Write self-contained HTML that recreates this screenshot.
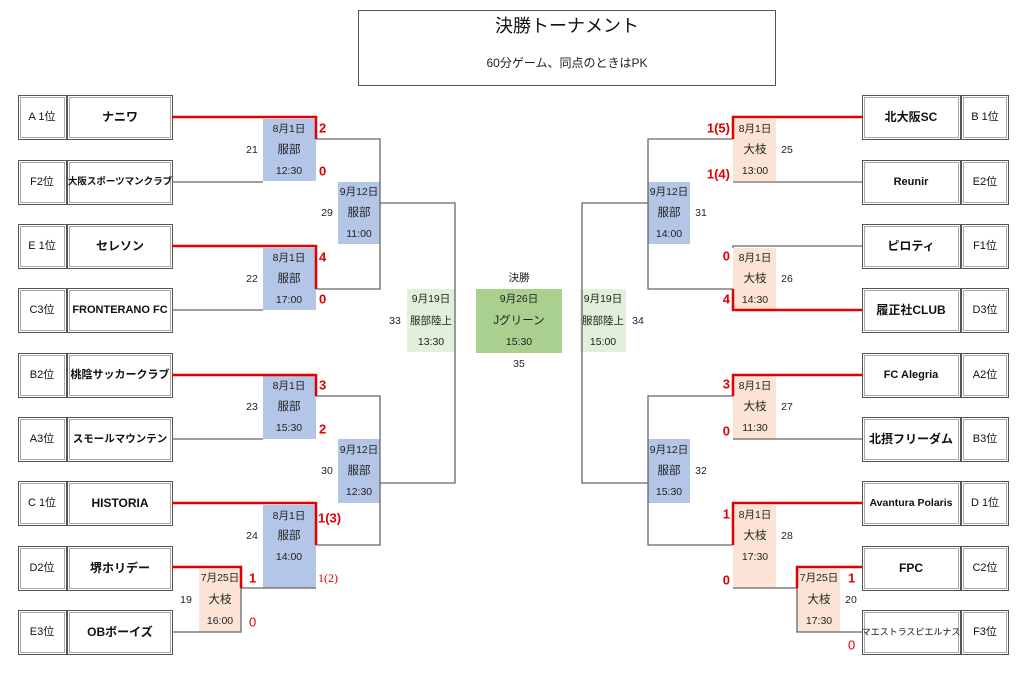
<!DOCTYPE html>
<html><head><meta charset="utf-8"><style>
html,body{margin:0;padding:0;background:#fff;}
svg{display:block;font-family:"Liberation Sans","Noto Sans CJK JP",sans-serif;}
.t{font-size:12px;font-weight:bold;fill:#111;text-anchor:middle;dominant-baseline:central;}
.m{font-size:10.5px;fill:#222;text-anchor:middle;dominant-baseline:central;}
.s{font-size:13px;font-weight:bold;fill:#e00000;dominant-baseline:central;}
.g{stroke:#666;stroke-width:1.3;fill:none;}
.r{stroke:#e00000;stroke-width:2.5;fill:none;}
</style></head><body>
<svg width="1024" height="683" viewBox="0 0 1024 683">
<rect x="358.5" y="10.5" width="417" height="75" fill="#fff" stroke="#555"/>
<text x="567" y="26" class="t" style="font-size:18px;font-weight:normal">決勝トーナメント</text>
<text x="567" y="63" class="m" style="font-size:12px">60分ゲーム、同点のときはPK</text>

<g stroke="#555" fill="#fff">
<rect x="18.5" y="95.5" width="48" height="44"/><rect x="67.5" y="95.5" width="105" height="44"/>
<rect x="18.5" y="160.5" width="48" height="44"/><rect x="67.5" y="160.5" width="105" height="44"/>
<rect x="18.5" y="224.5" width="48" height="44"/><rect x="67.5" y="224.5" width="105" height="44"/>
<rect x="18.5" y="288.5" width="48" height="44"/><rect x="67.5" y="288.5" width="105" height="44"/>
<rect x="18.5" y="353.5" width="48" height="44"/><rect x="67.5" y="353.5" width="105" height="44"/>
<rect x="18.5" y="417.5" width="48" height="44"/><rect x="67.5" y="417.5" width="105" height="44"/>
<rect x="18.5" y="481.5" width="48" height="44"/><rect x="67.5" y="481.5" width="105" height="44"/>
<rect x="18.5" y="546.5" width="48" height="44"/><rect x="67.5" y="546.5" width="105" height="44"/>
<rect x="18.5" y="610.5" width="48" height="44"/><rect x="67.5" y="610.5" width="105" height="44"/>
<rect x="862.5" y="95.5" width="98" height="44"/><rect x="961.5" y="95.5" width="47" height="44"/>
<rect x="862.5" y="160.5" width="98" height="44"/><rect x="961.5" y="160.5" width="47" height="44"/>
<rect x="862.5" y="224.5" width="98" height="44"/><rect x="961.5" y="224.5" width="47" height="44"/>
<rect x="862.5" y="288.5" width="98" height="44"/><rect x="961.5" y="288.5" width="47" height="44"/>
<rect x="862.5" y="353.5" width="98" height="44"/><rect x="961.5" y="353.5" width="47" height="44"/>
<rect x="862.5" y="417.5" width="98" height="44"/><rect x="961.5" y="417.5" width="47" height="44"/>
<rect x="862.5" y="481.5" width="98" height="44"/><rect x="961.5" y="481.5" width="47" height="44"/>
<rect x="862.5" y="546.5" width="98" height="44"/><rect x="961.5" y="546.5" width="47" height="44"/>
<rect x="862.5" y="610.5" width="98" height="44"/><rect x="961.5" y="610.5" width="47" height="44"/>
</g>
<g stroke="#aaa" fill="none">
<rect x="20.5" y="97.5" width="44" height="40"/><rect x="69.5" y="97.5" width="101" height="40"/>
<rect x="20.5" y="162.5" width="44" height="40"/><rect x="69.5" y="162.5" width="101" height="40"/>
<rect x="20.5" y="226.5" width="44" height="40"/><rect x="69.5" y="226.5" width="101" height="40"/>
<rect x="20.5" y="290.5" width="44" height="40"/><rect x="69.5" y="290.5" width="101" height="40"/>
<rect x="20.5" y="355.5" width="44" height="40"/><rect x="69.5" y="355.5" width="101" height="40"/>
<rect x="20.5" y="419.5" width="44" height="40"/><rect x="69.5" y="419.5" width="101" height="40"/>
<rect x="20.5" y="483.5" width="44" height="40"/><rect x="69.5" y="483.5" width="101" height="40"/>
<rect x="20.5" y="548.5" width="44" height="40"/><rect x="69.5" y="548.5" width="101" height="40"/>
<rect x="20.5" y="612.5" width="44" height="40"/><rect x="69.5" y="612.5" width="101" height="40"/>
<rect x="864.5" y="97.5" width="94" height="40"/><rect x="963.5" y="97.5" width="43" height="40"/>
<rect x="864.5" y="162.5" width="94" height="40"/><rect x="963.5" y="162.5" width="43" height="40"/>
<rect x="864.5" y="226.5" width="94" height="40"/><rect x="963.5" y="226.5" width="43" height="40"/>
<rect x="864.5" y="290.5" width="94" height="40"/><rect x="963.5" y="290.5" width="43" height="40"/>
<rect x="864.5" y="355.5" width="94" height="40"/><rect x="963.5" y="355.5" width="43" height="40"/>
<rect x="864.5" y="419.5" width="94" height="40"/><rect x="963.5" y="419.5" width="43" height="40"/>
<rect x="864.5" y="483.5" width="94" height="40"/><rect x="963.5" y="483.5" width="43" height="40"/>
<rect x="864.5" y="548.5" width="94" height="40"/><rect x="963.5" y="548.5" width="43" height="40"/>
<rect x="864.5" y="612.5" width="94" height="40"/><rect x="963.5" y="612.5" width="43" height="40"/>
</g>
<g>
<text x="42" y="117" class="t" style="font-weight:normal;font-size:11px">A 1位</text><text x="120" y="117" class="t">ナニワ</text>
<text x="42" y="182" class="t" style="font-weight:normal;font-size:11px">F2位</text><text x="120" y="182" class="t" style="font-size:9.5px">大阪スポーツマンクラブ</text>
<text x="42" y="246" class="t" style="font-weight:normal;font-size:11px">E 1位</text><text x="120" y="246" class="t">セレソン</text>
<text x="42" y="310" class="t" style="font-weight:normal;font-size:11px">C3位</text><text x="120" y="310" class="t" style="font-size:11px">FRONTERANO FC</text>
<text x="42" y="375" class="t" style="font-weight:normal;font-size:11px">B2位</text><text x="120" y="375" class="t" style="font-size:11px">桃陰サッカークラブ</text>
<text x="42" y="439" class="t" style="font-weight:normal;font-size:11px">A3位</text><text x="120" y="439" class="t" style="font-size:10.5px">スモールマウンテン</text>
<text x="42" y="503" class="t" style="font-weight:normal;font-size:11px">C 1位</text><text x="120" y="503" class="t">HISTORIA</text>
<text x="42" y="568" class="t" style="font-weight:normal;font-size:11px">D2位</text><text x="120" y="568" class="t">堺ホリデー</text>
<text x="42" y="632" class="t" style="font-weight:normal;font-size:11px">E3位</text><text x="120" y="632" class="t">OBボーイズ</text>

<text x="911" y="117" class="t">北大阪SC</text><text x="985" y="117" class="t" style="font-weight:normal;font-size:11px">B 1位</text>
<text x="911" y="182" class="t" style="font-size:11px">Reunir</text><text x="985" y="182" class="t" style="font-weight:normal;font-size:11px">E2位</text>
<text x="911" y="246" class="t">ピロティ</text><text x="985" y="246" class="t" style="font-weight:normal;font-size:11px">F1位</text>
<text x="911" y="310" class="t">履正社CLUB</text><text x="985" y="310" class="t" style="font-weight:normal;font-size:11px">D3位</text>
<text x="911" y="375" class="t" style="font-size:11px">FC Alegria</text><text x="985" y="375" class="t" style="font-weight:normal;font-size:11px">A2位</text>
<text x="911" y="439" class="t">北摂フリーダム</text><text x="985" y="439" class="t" style="font-weight:normal;font-size:11px">B3位</text>
<text x="911" y="503" class="t" style="font-size:10.5px">Avantura Polaris</text><text x="985" y="503" class="t" style="font-weight:normal;font-size:11px">D 1位</text>
<text x="911" y="568" class="t">FPC</text><text x="985" y="568" class="t" style="font-weight:normal;font-size:11px">C2位</text>
<text x="911" y="632" class="t" style="font-size:9px;font-weight:normal">マエストラスピエルナス</text><text x="985" y="632" class="t" style="font-weight:normal;font-size:11px">F3位</text>
</g>

<g>
<rect x="263" y="119" width="53" height="62" fill="#b4c6e7"/>
<rect x="263" y="248" width="53" height="62" fill="#b4c6e7"/>
<rect x="263" y="376" width="53" height="63" fill="#b4c6e7"/>
<rect x="263" y="505" width="53" height="83" fill="#b4c6e7"/>
<rect x="338" y="182" width="42" height="62" fill="#b4c6e7"/>
<rect x="338" y="439" width="42" height="64" fill="#b4c6e7"/>
<rect x="199" y="569" width="42" height="63" fill="#fbe4d5"/>
<rect x="407" y="289" width="48" height="63" fill="#e2efda"/>
<rect x="476" y="289" width="86" height="64" fill="#a9d08e"/>
<rect x="580" y="289" width="46" height="63" fill="#e2efda"/>
<rect x="648" y="182" width="42" height="62" fill="#b4c6e7"/>
<rect x="648" y="439" width="42" height="64" fill="#b4c6e7"/>
<rect x="733" y="119" width="43" height="62" fill="#fbe4d5"/>
<rect x="733" y="248" width="43" height="62" fill="#fbe4d5"/>
<rect x="733" y="376" width="43" height="63" fill="#fbe4d5"/>
<rect x="733" y="505" width="43" height="83" fill="#fbe4d5"/>
<rect x="797" y="569" width="43" height="63" fill="#fbe4d5"/>
</g>

<g class="g">
<path d="M316 139H380V289H316"/>
<path d="M172 182H263"/><path d="M172 310H263"/>
<path d="M380 203H455V483H380"/>
<path d="M316 396H380V545H316"/>
<path d="M172 439H263"/>
<path d="M241 588H316"/>
<path d="M172 632H241V588"/>
<path d="M733 139H648V289H733"/>
<path d="M862 182H733"/><path d="M862 246H733V248"/>
<path d="M648 203H582V483H648"/>
<path d="M733 396H648V545H733"/>
<path d="M862 439H733"/>
<path d="M733 588H797"/>
<path d="M862 632H797V588"/>
</g>
<g class="r">
<path d="M172 117H316V139"/>
<path d="M172 246H316V289"/>
<path d="M172 375H316V396"/>
<path d="M172 503H316V545"/>
<path d="M172 567H241V588"/>
<path d="M862 117H733V139"/>
<path d="M862 310H733V289"/>
<path d="M862 375H733V396"/>
<path d="M862 503H733V545"/>
<path d="M862 567H797V588"/>
</g>

<g class="m">
<text x="289" y="129">8月1日</text><text x="289" y="150" style="font-size:11.5px">服部</text><text x="289" y="171">12:30</text><text x="252" y="150">21</text>
<text x="289" y="258">8月1日</text><text x="289" y="279" style="font-size:11.5px">服部</text><text x="289" y="300">17:00</text><text x="252" y="279">22</text>
<text x="289" y="386">8月1日</text><text x="289" y="407" style="font-size:11.5px">服部</text><text x="289" y="428">15:30</text><text x="252" y="407">23</text>
<text x="289" y="516">8月1日</text><text x="289" y="536" style="font-size:11.5px">服部</text><text x="289" y="557">14:00</text><text x="252" y="536">24</text>
<text x="359" y="192">9月12日</text><text x="359" y="213" style="font-size:11.5px">服部</text><text x="359" y="234">11:00</text><text x="327" y="213">29</text>
<text x="359" y="450">9月12日</text><text x="359" y="471" style="font-size:11.5px">服部</text><text x="359" y="492">12:30</text><text x="327" y="471">30</text>
<text x="220" y="578">7月25日</text><text x="220" y="600" style="font-size:11.5px">大枝</text><text x="220" y="621">16:00</text><text x="186" y="600">19</text>
<text x="431" y="299">9月19日</text><text x="431" y="321">服部陸上</text><text x="431" y="342">13:30</text><text x="395" y="321">33</text>
<text x="519" y="278">決勝</text>
<text x="519" y="299">9月26日</text><text x="519" y="321" style="font-size:11.5px">Jグリーン</text><text x="519" y="342">15:30</text><text x="519" y="364">35</text>
<text x="603" y="299">9月19日</text><text x="603" y="321">服部陸上</text><text x="603" y="342">15:00</text><text x="638" y="321">34</text>
<text x="669" y="192">9月12日</text><text x="669" y="213" style="font-size:11.5px">服部</text><text x="669" y="234">14:00</text><text x="701" y="213">31</text>
<text x="669" y="450">9月12日</text><text x="669" y="471" style="font-size:11.5px">服部</text><text x="669" y="492">15:30</text><text x="701" y="471">32</text>
<text x="755" y="129">8月1日</text><text x="755" y="150" style="font-size:11.5px">大枝</text><text x="755" y="171">13:00</text><text x="787" y="150">25</text>
<text x="755" y="258">8月1日</text><text x="755" y="279" style="font-size:11.5px">大枝</text><text x="755" y="300">14:30</text><text x="787" y="279">26</text>
<text x="755" y="386">8月1日</text><text x="755" y="407" style="font-size:11.5px">大枝</text><text x="755" y="428">11:30</text><text x="787" y="407">27</text>
<text x="755" y="515">8月1日</text><text x="755" y="536" style="font-size:11.5px">大枝</text><text x="755" y="557">17:30</text><text x="787" y="536">28</text>
<text x="819" y="578">7月25日</text><text x="819" y="600" style="font-size:11.5px">大枝</text><text x="819" y="621">17:30</text><text x="851" y="600">20</text>
</g>

<g class="s">
<text x="319" y="128">2</text><text x="319" y="171">0</text>
<text x="319" y="257">4</text><text x="319" y="299">0</text>
<text x="319" y="385">3</text><text x="319" y="429">2</text>
<text x="318" y="518">1(3)</text>
<text x="318" y="578" style="font-weight:normal;font-size:12px;font-family:'Liberation Serif',serif">1(2)</text>
<text x="249" y="578">1</text><text x="249" y="622" style="font-weight:normal">0</text>
<text x="730" y="128" text-anchor="end">1(5)</text><text x="730" y="174" text-anchor="end">1(4)</text>
<text x="730" y="256" text-anchor="end">0</text><text x="730" y="299" text-anchor="end">4</text>
<text x="730" y="384" text-anchor="end">3</text><text x="730" y="431" text-anchor="end">0</text>
<text x="730" y="514" text-anchor="end">1</text><text x="730" y="580" text-anchor="end">0</text>
<text x="848" y="578">1</text><text x="848" y="645" style="font-weight:normal">0</text>
</g>
</svg>
</body></html>
